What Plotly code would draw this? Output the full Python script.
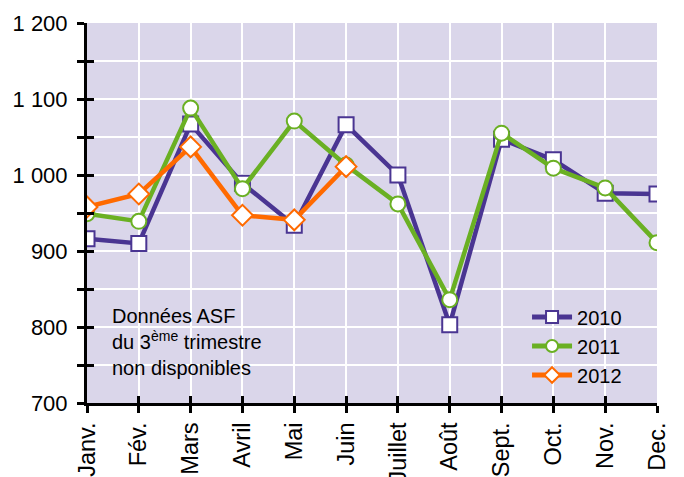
import plotly.graph_objects as go

months = ["Janv.", "Fév.", "Mars", "Avril", "Mai", "Juin", "Juillet", "Août", "Sept.", "Oct.", "Nov.", "Dec."]
s2010 = [916, 910, 1067, 989, 934, 1066, 1000, 803, 1047, 1020, 976, 975]
s2011 = [949, 939, 1088, 982, 1071, 1013, 962, 836, 1055, 1009, 983, 911]
s2012 = [958, 975, 1037, 947, 941, 1011]
ytickvals = [700, 800, 900, 1000, 1100, 1200]
yticktext = ["700", "800", "900", "1 000", "1 100", "1 200"]

FONT = "Liberation Sans, Arial, sans-serif"
fig = go.Figure()
# invisible helper trace so the overlay axes (inner half of the crossing ticks) are drawn
fig.add_trace(go.Scatter(x=months, y=s2010, mode="none", showlegend=False, hoverinfo="skip",
                         xaxis="x2", yaxis="y2"))
fig.add_trace(go.Scatter(x=months, y=s2010, name="2010", mode="lines+markers",
                         line=dict(color="#4a3592", width=4.5),
                         marker=dict(symbol="square", size=15, color="white",
                                     line=dict(color="#4a3592", width=2))))
fig.add_trace(go.Scatter(x=months, y=s2011, name="2011", mode="lines+markers",
                         line=dict(color="#6ab023", width=4.5),
                         marker=dict(symbol="circle", size=15, color="white",
                                     line=dict(color="#6ab023", width=2))))
fig.add_trace(go.Scatter(x=months[:len(s2012)], y=s2012, name="2012", mode="lines+markers",
                         line=dict(color="#ff6a00", width=4.5),
                         marker=dict(symbol="diamond", size=16, color="white",
                                     line=dict(color="#ff6a00", width=2))))

fig.update_layout(
    width=684, height=477,
    margin=dict(l=79, r=35, t=15, b=82),
    paper_bgcolor="white", plot_bgcolor="#dad6ea",
    font=dict(family=FONT, size=21, color="black"),
    showlegend=True,
    legend=dict(x=0.772, y=0.15, xanchor="left", yanchor="middle",
                bgcolor="rgba(0,0,0,0)", font=dict(size=20), itemwidth=40,
                tracegroupgap=0, itemsizing="constant"),
    annotations=[dict(x=0.04, y=0.16, xref="paper", yref="paper", xanchor="left", yanchor="middle",
                      align="left", showarrow=False,
                      text="Données ASF<br>du 3<sup>ème</sup> trimestre<br>non disponibles",
                      font=dict(size=20, family=FONT))],
    xaxis=dict(type="category", range=[0, 11], showgrid=True, gridcolor="white", gridwidth=2,
               showline=True, linecolor="black", linewidth=3, automargin=False,
               ticks="outside", ticklen=7, tickwidth=2.5, tickcolor="black",
               tickangle=-90, tickfont=dict(size=23.5), zeroline=False),
    yaxis=dict(range=[700, 1200], tickvals=ytickvals, ticktext=yticktext,
               showgrid=True, gridcolor="white", gridwidth=2, automargin=False,
               showline=True, linecolor="black", linewidth=3,
               ticks="outside", ticklen=7, tickwidth=2.5, tickcolor="black",
               ticklabelstandoff=5,
               minor=dict(dtick=50, tick0=700, ticks="outside", ticklen=7, tickwidth=2.5,
                          tickcolor="black", showgrid=True, gridcolor="white", gridwidth=2),
               tickfont=dict(size=22), zeroline=False),
    xaxis2=dict(type="category", range=[0, 11], overlaying="x", side="bottom", anchor="y2",
                showgrid=False, showline=False, showticklabels=False, automargin=False,
                ticks="inside", ticklen=7, tickwidth=2.5, tickcolor="black", zeroline=False),
    yaxis2=dict(range=[700, 1200], overlaying="y", side="left", anchor="x2",
                tickvals=ytickvals, showgrid=False, showline=False, showticklabels=False,
                automargin=False, ticks="inside", ticklen=7, tickwidth=2.5, tickcolor="black",
                minor=dict(dtick=50, tick0=700, ticks="inside", ticklen=7, tickwidth=2.5,
                           tickcolor="black", showgrid=False),
                zeroline=False),
)

fig.write_html("out.html")
